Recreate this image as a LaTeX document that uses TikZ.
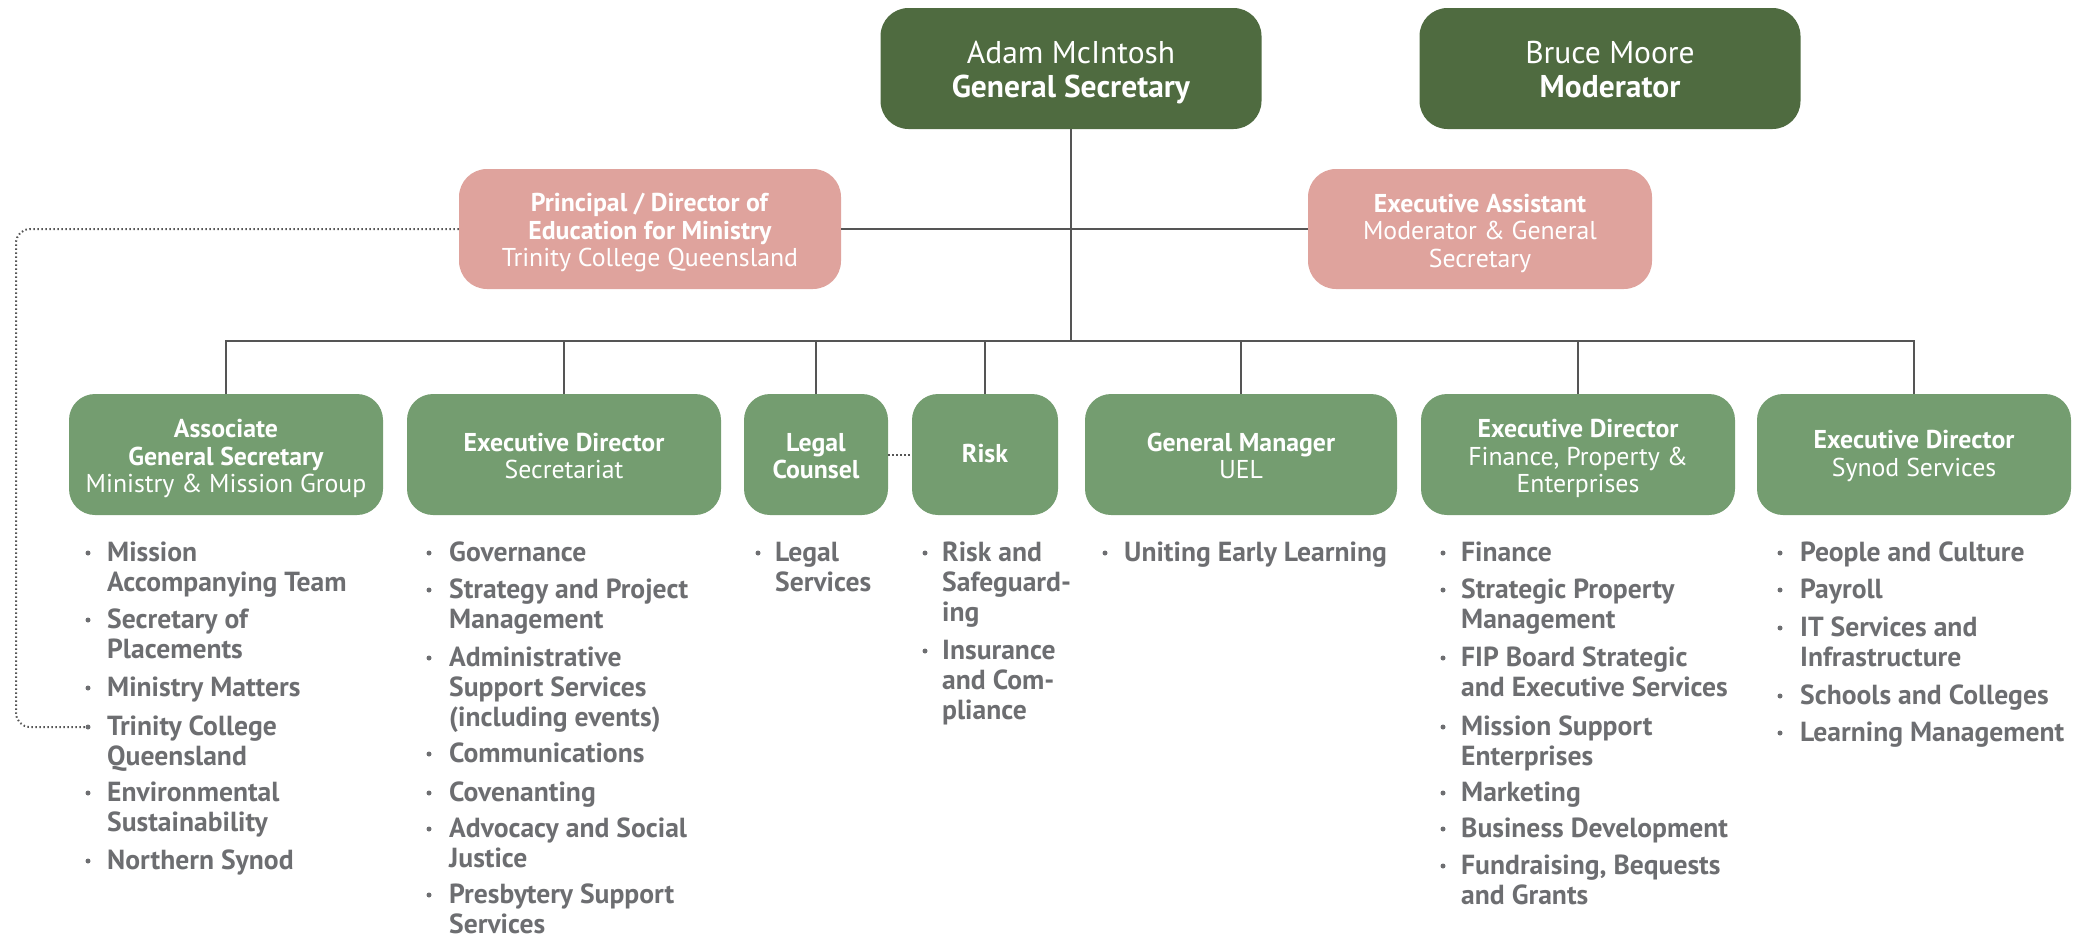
\documentclass[tikz,border=0pt]{standalone}
\usepackage{fontspec}
\setmainfont{PT Sans}
\definecolor{dkgreen}{RGB}{79,107,64}
\definecolor{mdgreen}{RGB}{116,157,112}
\definecolor{pinkbox}{RGB}{223,163,157}
\definecolor{txtgray}{RGB}{109,110,113}
\definecolor{linegray}{RGB}{85,85,85}
\newcommand\ml[1]{\begin{tabular}[t]{@{}l@{}}#1\end{tabular}}
\newcommand\litem[5]{%
  \node[bul] (#1b) at (#2,#4-8) {};
  \node[ltxt] (#1) at (#3,#4) {\ml{#5}};}
\tikzset{
  topbox/.style={rectangle, rounded corners=28pt, fill=dkgreen, minimum width=381pt, minimum height=121pt, inner sep=0pt},
  toptxt/.style={text=white, align=center, inner sep=0pt, yshift=-4pt, font=\fontsize{31.5}{34}\selectfont},
  pbox/.style={rectangle, rounded corners=28pt, fill=pinkbox, minimum height=120pt, inner sep=0pt},
  gbox/.style={rectangle, rounded corners=26pt, fill=mdgreen, minimum height=121pt, inner sep=0pt},
  btxt/.style={text=white, align=center, inner sep=0pt, yshift=-4pt, font=\fontsize{25.8}{27.5}\selectfont},
  conn/.style={draw=linegray, line width=1.6pt},
  dotline/.style={draw=linegray, line width=2pt, dash pattern=on 1.5pt off 2.5pt},
  bul/.style={circle, fill=txtgray, inner sep=0pt, minimum size=5pt},
  ltxt/.style={anchor=base west, inner sep=0pt, text=txtgray, font=\fontsize{27.6}{30}\selectfont\bfseries},
}
\begin{document}
\begin{tikzpicture}[x=1pt,y=-1pt]
\useasboundingbox (0,0) rectangle (2081,937);
% top
\node[topbox] (gs) at (1071,68.5) {};
\node[toptxt] (gst) at (gs.center) {Adam McIntosh\\\textbf{General Secretary}};
\node[topbox] (mod) at (1610,68.5) {};
\node[toptxt, yshift=2.5pt] (modt) at (mod.center) {Bruce Moore\\\textbf{Moderator}};
\node[pbox, minimum width=382pt] (prin) at (650,229) {};
\node[btxt] (print) at (prin.center) {\textbf{Principal / Director of}\\\textbf{Education for Ministry}\\Trinity College Queensland};
\node[pbox, minimum width=344pt] (ea) at (1480,229) {};
\node[btxt] (eat) at (ea.center) {\textbf{Executive Assistant}\\Moderator \& General\\Secretary};
% row
\node[gbox, minimum width=314pt] (ags) at (226,454.5) {};
\node[btxt] (agst) at (ags.center) {\textbf{Associate}\\\textbf{General Secretary}\\Ministry \& Mission Group};
\node[gbox, minimum width=314pt] (sec) at (564,454.5) {};
\node[btxt, yshift=2.5pt] (sect) at (sec.center) {\textbf{Executive Director}\\Secretariat};
\node[gbox, minimum width=144pt] (leg) at (816,454.5) {};
\node[btxt, yshift=2.5pt] (legt) at (leg.center) {\textbf{Legal}\\\textbf{Counsel}};
\node[gbox, minimum width=146pt] (risk) at (985,454.5) {};
\node[btxt, yshift=5pt] (riskt) at (risk.center) {\textbf{Risk}};
\node[gbox, minimum width=312pt] (uel) at (1241,454.5) {};
\node[btxt, yshift=2.5pt] (uelt) at (uel.center) {\textbf{General Manager}\\UEL};
\node[gbox, minimum width=314pt] (fin) at (1578,454.5) {};
\node[btxt] (fint) at (fin.center) {\textbf{Executive Director}\\Finance, Property \&\\Enterprises};
\node[gbox, minimum width=314pt] (syn) at (1914,454.5) {};
\node[btxt, yshift=2.5pt] (synt) at (syn.center) {\textbf{Executive Director}\\Synod Services};
% connectors
\coordinate (bus) at (1071,341);
\draw[conn] (gs.south) -- (bus);
\draw[conn] (prin.east) -- (ea.west);
\draw[conn] (ags.north) |- (bus) -| (syn.north);
\foreach \n in {sec,leg,risk,uel,fin} \draw[conn] (\n.north) -- (\n.north |- bus);
\draw[dotline] (leg.east) -- (risk.west);
% lists
\litem{a1}{88}{107}{561}{Mission\\Accompanying Team}
\litem{a2}{88}{107}{628}{Secretary of\\Placements}
\litem{a3}{88}{107}{696}{Ministry Matters}
\litem{a4}{88}{107}{735}{Trinity College\\Queensland}
\litem{a5}{88}{107}{801}{Environmental\\Sustainability}
\litem{a6}{88}{107}{869}{Northern Synod}
\litem{s1}{429}{449}{561}{Governance}
\litem{s2}{429}{449}{598}{Strategy and Project\\Management}
\litem{s3}{429}{449}{666}{Administrative\\Support Services\\(including events)}
\litem{s4}{429}{449}{762}{Communications}
\litem{s5}{429}{449}{801}{Covenanting}
\litem{s6}{429}{449}{837}{Advocacy and Social\\Justice}
\litem{s7}{429}{449}{903}{Presbytery Support\\Services}
\litem{l1}{758}{775}{561}{Legal\\Services}
\litem{r1}{925}{942}{561}{Risk and\\Safeguard-\\ing}
\litem{r2}{925}{942}{659}{Insurance\\and Com-\\pliance}
\litem{u1}{1105}{1124}{561}{Uniting Early Learning}
\litem{f1}{1443}{1461}{561}{Finance}
\litem{f2}{1443}{1461}{598}{Strategic Property\\Management}
\litem{f3}{1443}{1461}{666}{FIP Board Strategic\\and Executive Services}
\litem{f4}{1443}{1461}{735}{Mission Support\\Enterprises}
\litem{f5}{1443}{1461}{801}{Marketing}
\litem{f6}{1443}{1461}{837}{Business Development}
\litem{f7}{1443}{1461}{874}{Fundraising, Bequests\\and Grants}
\litem{p1}{1780}{1800}{561}{People and Culture}
\litem{p2}{1780}{1800}{598}{Payroll}
\litem{p3}{1780}{1800}{636}{IT Services and\\Infrastructure}
\litem{p4}{1780}{1800}{704}{Schools and Colleges}
\litem{p5}{1780}{1800}{741}{Learning Management}
% dotted link
\coordinate (dl) at (16,727);
\draw[dotline, rounded corners=14pt] (prin.west) -| (dl) -- (a4b.west);
\end{tikzpicture}
\end{document}
